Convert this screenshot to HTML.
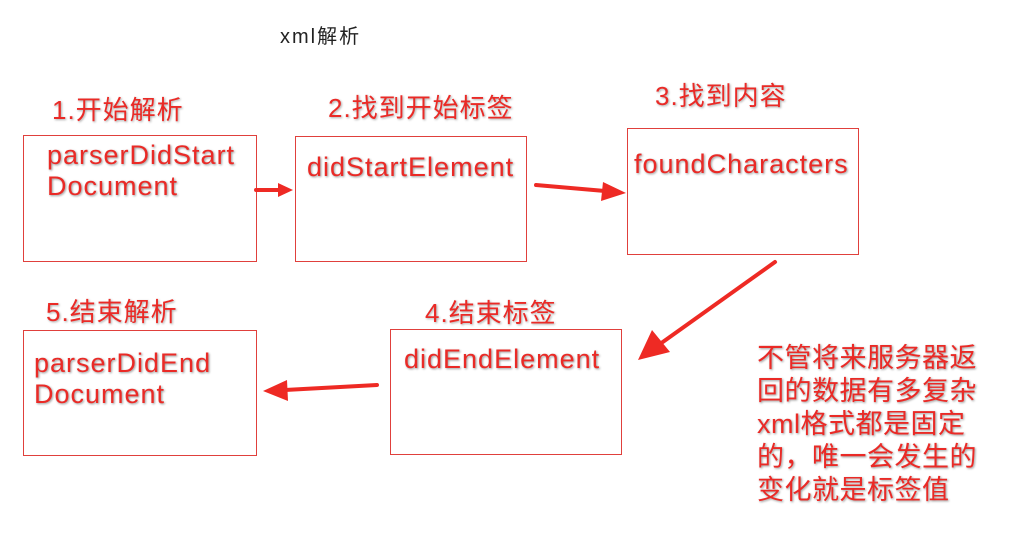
<!DOCTYPE html>
<html><head><meta charset="utf-8"><style>
body{margin:0;width:1018px;height:545px;background:#fff;position:relative;overflow:hidden;font-family:"Liberation Sans","Noto Sans CJK SC",sans-serif}
.b{position:absolute;border:1.5px solid #e0403c;box-sizing:border-box}
.t{position:absolute;color:#ea2a26;font-size:27px;letter-spacing:1px;line-height:31px;white-space:nowrap;text-shadow:1px 1px 2px #999,0 0 1px #fff}
.l{position:absolute;color:#ea2a26;font-size:26px;letter-spacing:1px;white-space:nowrap;text-shadow:1px 1px 2px #aaa}
</style></head><body>
<div style="position:absolute;left:280px;top:20px;font-size:20px;letter-spacing:2px;color:#222">xml解析</div>
<div class="l" style="left:52px;top:90px">1.开始解析</div>
<div class="l" style="left:328px;top:88px">2.找到开始标签</div>
<div class="l" style="left:655px;top:76px">3.找到内容</div>
<div class="l" style="left:425px;top:293px">4.结束标签</div>
<div class="l" style="left:46px;top:292px">5.结束解析</div>
<div class="b" style="left:23px;top:135px;width:234px;height:127px"></div>
<div class="b" style="left:295px;top:136px;width:232px;height:126px"></div>
<div class="b" style="left:627px;top:128px;width:232px;height:127px"></div>
<div class="b" style="left:390px;top:329px;width:232px;height:126px"></div>
<div class="b" style="left:23px;top:330px;width:234px;height:126px"></div>
<div class="t" style="left:47px;top:140px">parserDidStart<br>Document</div>
<div class="t" style="left:307px;top:152px">didStartElement</div>
<div class="t" style="left:634px;top:149px">foundCharacters</div>
<div class="t" style="left:404px;top:344px">didEndElement</div>
<div class="t" style="left:34px;top:348px">parserDidEnd<br>Document</div>
<div class="t" style="left:757px;top:342px;font-size:27px;letter-spacing:0.5px;line-height:33px">不管将来服务器返<br>回的数据有多复杂<br>xml格式都是固定<br>的，唯一会发生的<br>变化就是标签值</div>
<svg width="1018" height="545" style="position:absolute;left:0;top:0">
<g fill="#ee2a24" stroke="#ee2a24" stroke-linecap="round">
<line x1="256" y1="190" x2="280" y2="190" stroke-width="4"/><polygon points="278,183 293,190 278,197" stroke="none"/>
<line x1="536" y1="185" x2="605" y2="191" stroke-width="4"/><polygon points="603,182 626,193 601,201" stroke="none"/>
<line x1="775" y1="262" x2="660" y2="344" stroke-width="4"/><polygon points="652,330 638,360 670,352" stroke="none"/>
<line x1="377" y1="385" x2="285" y2="390" stroke-width="4"/><polygon points="287,380 263,391 288,401" stroke="none"/>
</g></svg>
</body></html>
